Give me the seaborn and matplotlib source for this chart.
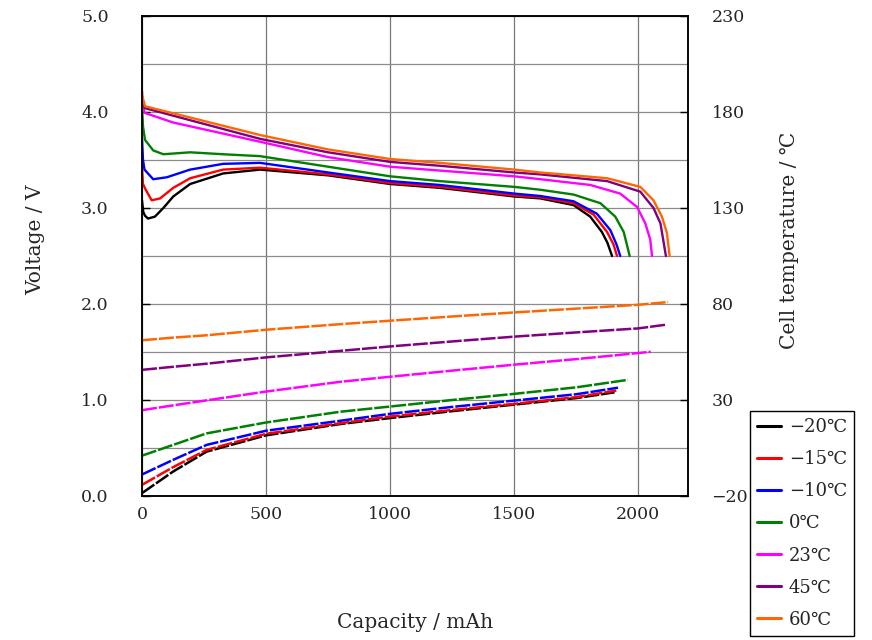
import numpy as np
import pandas as pd
import matplotlib
matplotlib.use("Agg")
import matplotlib.pyplot as plt
import seaborn as sns

# ---- discharge voltage curves (capacity mAh, voltage V) ----
cap_m20 = [0, 5, 12, 24, 52, 86, 126, 194, 327, 476, 750, 1000, 1200, 1500, 1605, 1739, 1806, 1853, 1875, 1894]
volt_m20 = [3.08, 2.96, 2.92, 2.89, 2.91, 3.00, 3.12, 3.25, 3.36, 3.40, 3.34, 3.25, 3.21, 3.12, 3.10, 3.03, 2.91, 2.75, 2.64, 2.50]

cap_m15 = [0, 4, 15, 39, 73, 126, 194, 327, 476, 750, 1000, 1200, 1500, 1605, 1739, 1820, 1874, 1900, 1914]
volt_m15 = [3.42, 3.25, 3.19, 3.08, 3.10, 3.21, 3.31, 3.40, 3.42, 3.35, 3.26, 3.22, 3.13, 3.11, 3.05, 2.93, 2.75, 2.62, 2.50]

cap_m10 = [0, 4, 10, 45, 100, 194, 327, 476, 750, 1000, 1200, 1500, 1605, 1739, 1833, 1887, 1912, 1927]
volt_m10 = [3.72, 3.50, 3.40, 3.30, 3.32, 3.40, 3.46, 3.47, 3.37, 3.28, 3.24, 3.15, 3.125, 3.07, 2.94, 2.77, 2.62, 2.50]

cap_0 = [0, 4, 12, 45, 86, 194, 327, 476, 750, 1000, 1200, 1500, 1605, 1739, 1847, 1907, 1941, 1965]
volt_0 = [4.05, 3.85, 3.71, 3.60, 3.56, 3.58, 3.56, 3.54, 3.43, 3.33, 3.28, 3.22, 3.19, 3.14, 3.05, 2.91, 2.75, 2.50]

cap_23 = [0, 3, 12, 126, 476, 750, 1000, 1200, 1500, 1605, 1806, 1927, 1995, 2028, 2048, 2055]
volt_23 = [4.22, 4.05, 3.99, 3.89, 3.69, 3.53, 3.43, 3.39, 3.33, 3.30, 3.24, 3.15, 3.01, 2.84, 2.67, 2.50]

cap_45 = [0, 12, 476, 750, 1000, 1200, 1500, 1605, 1874, 2008, 2061, 2089, 2111]
volt_45 = [4.08, 4.04, 3.72, 3.58, 3.48, 3.44, 3.37, 3.35, 3.28, 3.17, 3.00, 2.84, 2.50]

cap_60 = [0, 12, 476, 750, 1000, 1200, 1500, 1605, 1874, 2008, 2061, 2095, 2115, 2126]
volt_60 = [4.18, 4.06, 3.76, 3.61, 3.51, 3.47, 3.40, 3.37, 3.31, 3.22, 3.08, 2.91, 2.74, 2.50]

# ---- cell temperature curves (capacity mAh, temperature C) ----
tcap_m20 = [0, 125, 260, 500, 800, 1000, 1250, 1500, 1750, 1904]
temp_m20 = [-18.5, -7.3, 3.1, 11.6, 17.5, 20.6, 24.2, 27.6, 31.0, 34.0]

tcap_m15 = [0, 125, 260, 500, 800, 1000, 1250, 1500, 1750, 1911]
temp_m15 = [-14.2, -5.0, 4.0, 12.4, 17.9, 21.4, 24.8, 28.0, 31.5, 34.9]

tcap_m10 = [0, 125, 260, 500, 800, 1000, 1250, 1500, 1750, 1918]
temp_m10 = [-8.8, -1.2, 6.6, 14.0, 19.2, 22.8, 26.4, 29.7, 33.0, 36.4]

tcap_0 = [0, 125, 260, 500, 800, 1000, 1250, 1500, 1750, 1958]
temp_0 = [1.0, 6.6, 12.6, 18.3, 23.9, 26.6, 30.0, 33.2, 36.6, 40.5]

tcap_23 = [0, 125, 260, 500, 800, 1000, 1250, 1500, 1750, 2050]
temp_23 = [24.7, 27.2, 29.8, 34.4, 39.5, 42.1, 45.3, 48.4, 51.3, 55.1]

tcap_45 = [0, 125, 260, 500, 800, 1000, 1250, 1500, 1750, 2000, 2110]
temp_45 = [45.7, 47.3, 48.9, 52.2, 55.6, 57.9, 60.5, 63.0, 65.2, 67.3, 69.2]

tcap_60 = [0, 125, 260, 500, 800, 1000, 1250, 1500, 1750, 2000, 2120]
temp_60 = [61.1, 62.5, 63.7, 66.6, 69.5, 71.3, 73.5, 75.6, 77.6, 79.6, 81.0]

labels = ["−20℃", "−15℃", "−10℃", "0℃", "23℃", "45℃", "60℃"]
colors = ["#000000", "#ff0000", "#0000ff", "#008000", "#ff00ff", "#800080", "#ff6600"]

volt_series = [(cap_m20, volt_m20), (cap_m15, volt_m15), (cap_m10, volt_m10), (cap_0, volt_0),
               (cap_23, volt_23), (cap_45, volt_45), (cap_60, volt_60)]
temp_series = [(tcap_m20, temp_m20), (tcap_m15, temp_m15), (tcap_m10, temp_m10), (tcap_0, temp_0),
               (tcap_23, temp_23), (tcap_45, temp_45), (tcap_60, temp_60)]

sns.set_theme(style="white")
plt.rcParams["font.family"] = ["DejaVu Serif", "DejaVu Sans", "Noto Sans CJK JP"]

fig = plt.figure(figsize=(8.72, 6.40), dpi=100)
ax = fig.add_axes([142 / 872, 1 - 496 / 640, 546 / 872, 480 / 640])
ax2 = ax.twinx()

handles = []
for (c, v), (tc, t), lab, col in zip(volt_series, temp_series, labels, colors):
    sns.lineplot(x=c, y=v, ax=ax, color=col, lw=1.7, sort=False, legend=False)
    handles.append(ax.get_lines()[-1])
    # temperature traces look like long dashes with small drop-outs
    sns.lineplot(x=tc, y=t, ax=ax2, color=col, lw=1.8, sort=False, legend=False,
                 linestyle=(0, (6, 0.8)))

ax.set_xlim(0, 2200)
ax.set_ylim(0, 5)
ax2.set_ylim(-20, 230)
ax.set_xticks([0, 500, 1000, 1500, 2000])
ax.set_yticks(np.arange(0, 5.01, 1.0))
ax.set_yticks(np.arange(0.5, 5.0, 1.0), minor=True)
ax.set_yticklabels([f"{v:.1f}" for v in np.arange(0, 5.01, 1.0)])
ax2.set_yticks([-20, 30, 80, 130, 180, 230])

ax.grid(True, which="both", axis="y", color="#8c8c8c", lw=0.9)
ax.grid(True, which="major", axis="x", color="#777777", lw=0.9)
ax2.grid(False)
ax.set_axisbelow(True)

for a in (ax, ax2):
    for s in a.spines.values():
        s.set_color("black")
        s.set_linewidth(1.1)

ax.tick_params(axis="y", which="major", direction="in", length=6, width=1, color="black",
               labelsize=12.5, pad=24)
ax.tick_params(axis="y", which="minor", length=0)
ax.tick_params(axis="x", length=0, labelsize=12.5, pad=7)
ax2.tick_params(axis="y", direction="in", length=6, width=1, color="black",
                labelsize=12.5, pad=17)

ax.set_xlabel("Capacity / mAh", fontsize=14.5)
ax.set_ylabel("Voltage / V", fontsize=14.5)
ax2.set_ylabel("Cell temperature / ℃", fontsize=14.5)
ax.xaxis.set_label_coords(0.5, -0.244)
ax.yaxis.set_label_coords(-0.178, 0.533)
ax2.yaxis.set_label_coords(1.168, 0.533)

leg = fig.legend(handles, labels, loc="upper left", bbox_to_anchor=(750 / 872, 1 - 411 / 640),
                 borderaxespad=0, fontsize=13, frameon=True, fancybox=False, framealpha=1,
                 edgecolor="black", handlelength=1.3, handletextpad=0.45, labelspacing=0.78,
                 borderpad=0.4)
leg.get_frame().set_linewidth(1.0)
for ln in leg.get_lines():
    ln.set_linewidth(2.2)

fig.savefig("out.png", dpi=100)
